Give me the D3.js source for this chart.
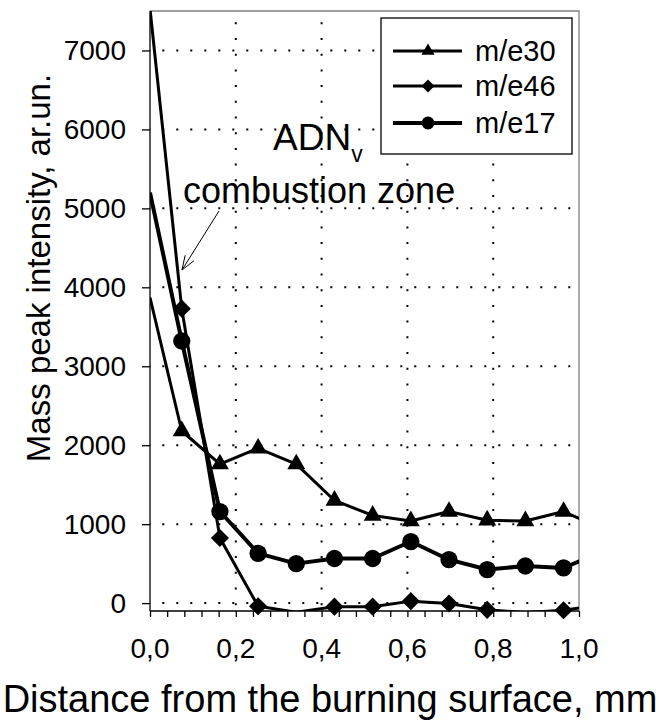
<!DOCTYPE html>
<html>
<head>
<meta charset="utf-8">
<script src="https://cdn.jsdelivr.net/npm/d3@7"></script>
<style>
  body { margin: 0; background: #fff; }
  text { font-family: "Liberation Sans", Arial, sans-serif; fill: #000; }
</style>
</head>
<body>
<div id="chart"></div>
<script>
// distance from the burning surface, mm (first/last points fall on/over the frame)
var distance = [0, 0.074, 0.163, 0.252, 0.341, 0.430, 0.519, 0.608, 0.697, 0.786, 0.875, 0.964, 1.053];
var me30 = [3870, 2180, 1760, 1960, 1760, 1300, 1110, 1040, 1160, 1050, 1040, 1160, 945];
var me46 = [7530, 3730, 825, -40, -115, -45, -45, 25, -5, -85, -120, -90, -20];
var me17 = [5200, 3320, 1160, 630, 500, 565, 565, 780, 550, 425, 470, 445, 650];

var seriesNames = ["m/e30", "m/e46", "m/e17"];
var yTicks = [0, 1000, 2000, 3000, 4000, 5000, 6000, 7000];
var xTicks = [0, 0.2, 0.4, 0.6, 0.8, 1.0];
var xTickLabels = ["0,0", "0,2", "0,4", "0,6", "0,8", "1,0"];

var W = 659, H = 727;
// careful: "top" is taken by window.top
var pLeft = 150, pRight = 579, pTop = 11, pBottom = 611;

var svg = d3.select("#chart").append("svg")
    .attr("width", W).attr("height", H);

var x = d3.scaleLinear().domain([0, 1]).range([pLeft, pRight]);
var y = d3.scaleLinear().domain([-100, 7500]).range([pBottom, pTop]);

svg.append("clipPath").attr("id", "plotclip")
  .append("rect")
    .attr("x", pLeft).attr("y", pTop)
    .attr("width", pRight - pLeft).attr("height", pBottom - pTop);

// dotted grid
svg.append("g").selectAll("line")
  .data(yTicks).enter().append("line")
    .attr("x1", pLeft).attr("x2", pRight)
    .attr("y1", function(d) { return y(d); })
    .attr("y2", function(d) { return y(d); })
    .attr("stroke", "#000").attr("stroke-width", 2)
    .attr("stroke-dasharray", "2,12")
    .attr("stroke-dashoffset", -12.3);

svg.append("g").selectAll("line")
  .data(xTicks.slice(1, 5)).enter().append("line")
    .attr("y1", pTop).attr("y2", pBottom)
    .attr("x1", function(d) { return x(d); })
    .attr("x2", function(d) { return x(d); })
    .attr("stroke", "#000").attr("stroke-width", 2)
    .attr("stroke-dasharray", "2,13.7")
    .attr("stroke-dashoffset", -11.3);

// frame top + right (grey)
svg.append("path")
    .attr("d", "M" + pLeft + "," + pTop + "H" + pRight + "V" + pBottom)
    .attr("fill", "none").attr("stroke", "#808080").attr("stroke-width", 1.3);

// axes
var yAxis = d3.axisLeft(y).tickValues(yTicks).tickSize(8).tickPadding(16)
    .tickFormat(d3.format("d"));
var gy = svg.append("g").attr("transform", "translate(" + pLeft + ",0)").call(yAxis);
gy.select(".domain").attr("d", "M0," + pTop + "V" + pBottom);

var minorX = d3.range(0, 1.0001, 0.04);
var xAxis = d3.axisBottom(x).tickValues(minorX).tickSize(6).tickFormat("");
var gx = svg.append("g").attr("transform", "translate(0," + pBottom + ")").call(xAxis);
gx.select(".domain").attr("d", "M" + pLeft + ",0H" + pRight);

svg.selectAll(".tick line, .domain").attr("stroke", "#000").attr("stroke-width", 1.3);
gy.selectAll("text").style("font-size", "28px").attr("fill", "#000")
    .style("font-family", "'Liberation Sans', Arial, sans-serif");

svg.append("g").selectAll("text")
  .data(xTicks).enter().append("text")
    .attr("x", function(d) { return x(d); })
    .attr("y", 658)
    .attr("text-anchor", "middle")
    .style("font-size", "28px")
    .text(function(d, i) { return xTickLabels[i]; });

// axis titles
svg.append("text")
    .attr("transform", "translate(50,268) rotate(-90)")
    .attr("text-anchor", "middle")
    .style("font-size", "33px")
    .text("Mass peak intensity, ar.un.");

svg.append("text")
    .attr("x", 330).attr("y", 712)
    .attr("text-anchor", "middle")
    .style("font-size", "38px")
    .text("Distance from the burning surface, mm");

// series
var shapes = [d3.symbolTriangle, d3.symbolSquare, d3.symbolCircle];
var sizes = [140, 165, 235];
var legendSizes = [75, 85, 130];
var widths = [3, 3, 4];
var allValues = [me30, me46, me17];

var line = d3.line()
    .x(function(d) { return x(d.x); })
    .y(function(d) { return y(d.v); });

function inside(d) {
  return d.x > 0 && d.x <= 1 && d.v >= -100 && d.v <= 7500;
}

allValues.forEach(function(vals, i) {
  var pts = distance.map(function(dx, j) { return { x: dx, v: vals[j] }; });
  svg.append("path")
      .datum(pts)
      .attr("clip-path", "url(#plotclip)")
      .attr("d", line)
      .attr("fill", "none").attr("stroke", "#000")
      .attr("stroke-width", widths[i])
      .attr("stroke-linejoin", "round");
  svg.append("g").selectAll("path")
    .data(pts.filter(inside))
    .enter().append("path")
      .attr("d", d3.symbol().type(shapes[i]).size(sizes[i]))
      .attr("transform", function(d) {
        return "translate(" + x(d.x) + "," + y(d.v) + ")" + (i == 1 ? " rotate(45)" : "");
      })
      .attr("fill", "#000");
});

// annotation
var ann = svg.append("text").attr("x", 273).attr("y", 150).style("font-size", "37px");
ann.append("tspan").text("ADN");
ann.append("tspan").attr("dy", 12).style("font-size", "23px").text("v");

svg.append("text").attr("x", 183).attr("y", 203)
    .style("font-size", "36px").text("combustion zone");

var ax0 = 219, ay0 = 211, ax1 = 182, ay1 = 270;
svg.append("line")
    .attr("x1", ax0).attr("y1", ay0).attr("x2", ax1).attr("y2", ay1)
    .attr("stroke", "#000").attr("stroke-width", 1);
var ang = Math.atan2(ay0 - ay1, ax0 - ax1);
[-0.35, 0.35].forEach(function(da) {
  svg.append("line")
      .attr("x1", ax1).attr("y1", ay1)
      .attr("x2", ax1 + 15 * Math.cos(ang + da))
      .attr("y2", ay1 + 15 * Math.sin(ang + da))
      .attr("stroke", "#000").attr("stroke-width", 1);
});

// legend
var lg = svg.append("g");
lg.append("rect")
    .attr("x", 381).attr("y", 18).attr("width", 191).attr("height", 136)
    .attr("fill", "#fff").attr("stroke", "#000").attr("stroke-width", 1.3);
var legendY = [51, 86, 123];
seriesNames.forEach(function(name, i) {
  lg.append("line")
      .attr("x1", 393).attr("x2", 462)
      .attr("y1", legendY[i]).attr("y2", legendY[i])
      .attr("stroke", "#000").attr("stroke-width", widths[i]);
  lg.append("path")
      .attr("d", d3.symbol().type(shapes[i]).size(legendSizes[i]))
      .attr("transform", "translate(428," + legendY[i] + ")" + (i == 1 ? " rotate(45)" : ""))
      .attr("fill", "#000");
  lg.append("text")
      .attr("x", 475).attr("y", legendY[i] + 10)
      .style("font-size", "29px")
      .text(name);
});
</script>
</body>
</html>
